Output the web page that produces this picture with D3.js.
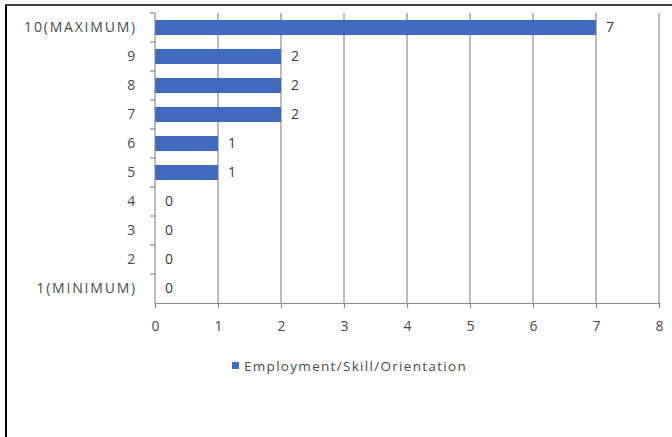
<!DOCTYPE html>
<html><head><meta charset="utf-8">
<script src="https://cdn.jsdelivr.net/npm/d3@7"></script>
<style>body{margin:0;background:#fff}svg{display:block}text{font-family:"Open Sans",sans-serif}</style>
</head><body>
<svg id="c" width="672" height="437"></svg>
<script>
const categories = ["10(MAXIMUM)","9","8","7","6","5","4","3","2","1(MINIMUM)"];
const values = [7,2,2,2,1,1,0,0,0,0];
const xTicks = [0,1,2,3,4,5,6,7,8];
const seriesName = "Employment/Skill/Orientation";

const svg = d3.select("#c");
// outer frame (left and top edges)
svg.append("line").attr("x1",6).attr("x2",6).attr("y1",5).attr("y2",437).attr("stroke","#000").attr("stroke-width",2);
svg.append("line").attr("x1",5).attr("x2",672).attr("y1",5).attr("y2",5).attr("stroke","#000").attr("stroke-width",1.5);

const m = {l:155, r:659, t:13, b:303};
const x = d3.scaleLinear().domain([0,8]).range([m.l,m.r]);
const y = d3.scaleBand().domain(categories).range([m.t,m.b]).paddingInner(0.48).paddingOuter(0.24);
const yb = d3.scaleBand().domain(categories).range([m.t,m.b]);

const gridC = "#8c8c8c";
const textC = "#4a4a4a";
// gridlines
svg.append("g").selectAll("line").data(xTicks.slice(1)).join("line")
  .attr("x1",d=>x(d)).attr("x2",d=>x(d)).attr("y1",m.t).attr("y2",m.b)
  .attr("stroke",gridC).attr("stroke-width",1.2);

// bars
svg.append("g").selectAll("rect").data(values).join("rect")
  .attr("x",x(0)).attr("y",(d,i)=>y(categories[i]))
  .attr("width",d=>x(d)-x(0)).attr("height",y.bandwidth())
  .attr("fill","#4169bd");

// x axis
const xa = svg.append("g").attr("transform",`translate(0,${m.b})`)
  .call(d3.axisBottom(x).tickValues(xTicks).tickSize(5).tickPadding(13).tickFormat(d3.format("d")));
xa.select(".domain").attr("stroke",gridC).attr("stroke-width",1.2);
xa.selectAll(".tick line").attr("stroke",gridC).attr("stroke-width",1.2);
xa.selectAll("text").attr("fill",textC).attr("font-size",14).style("font-family","Open Sans");

// y axis line
svg.append("line").attr("x1",m.l).attr("x2",m.l).attr("y1",m.t).attr("y2",m.b).attr("stroke",gridC).attr("stroke-width",1.2);
// y tick marks at band boundaries
svg.append("g").selectAll("line").data(categories).join("line")
  .attr("x1",m.l-5).attr("x2",m.l).attr("y1",d=>yb(d)).attr("y2",d=>yb(d))
  .attr("stroke",gridC).attr("stroke-width",1.2);
// y labels
svg.append("g").selectAll("text").data(categories).join("text")
  .attr("x",m.l-18).attr("y",d=>yb(d)+yb.bandwidth()/2).attr("dy","0.35em")
  .attr("text-anchor","end").attr("fill",textC).attr("font-size",14)
  .style("letter-spacing","1.8px").text(d=>d);

// value labels
svg.append("g").selectAll("text").data(values).join("text")
  .attr("x",d=>x(d)+10).attr("y",(d,i)=>y(categories[i])+y.bandwidth()/2).attr("dy","0.35em")
  .attr("fill","#3a3a3a").attr("font-size",14).text(d=>d);

// legend
const lg = svg.append("g");
lg.append("rect").attr("x",232).attr("y",362).attr("width",7).attr("height",7).attr("fill","#4169bd");
lg.append("text").attr("x",244).attr("y",366).attr("dy","0.35em").attr("fill",textC)
  .attr("font-size",13.5).style("letter-spacing","1.3px").text(seriesName);
</script>
</body></html>
